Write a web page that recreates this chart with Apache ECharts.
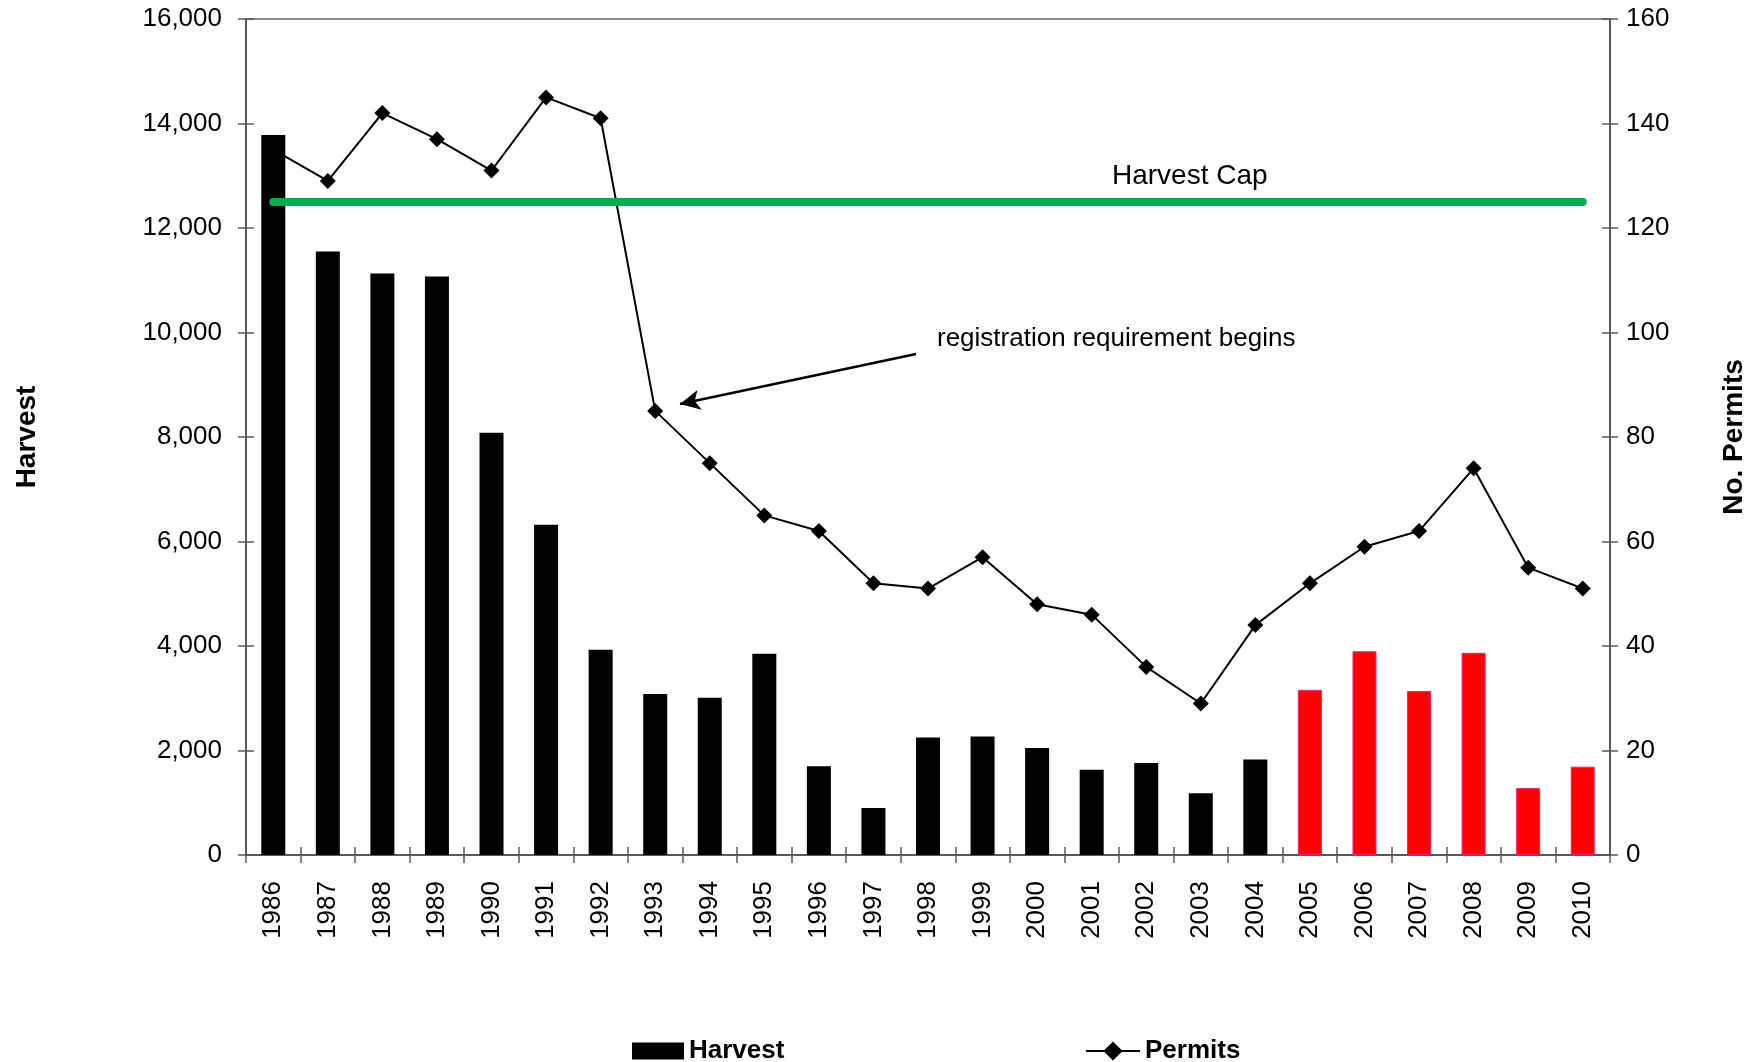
<!DOCTYPE html>
<html>
<head>
  <meta charset="utf-8">
  <title>Harvest and Permits</title>
  <script src="https://cdn.jsdelivr.net/npm/echarts@6/dist/echarts.min.js"></script>
  <style>
    html, body { margin: 0; padding: 0; background: #fff; }
    #myChart { width: 1764px; height: 1062px; }
  </style>
</head>
<body>
<div id="myChart"></div>
<script>
  // data
  const years = ['1986', '1987', '1988', '1989', '1990', '1991', '1992', '1993', '1994', '1995', '1996', '1997', '1998',
    '1999', '2000', '2001', '2002', '2003', '2004', '2005', '2006', '2007', '2008', '2009', '2010'];
  const harvest = [13780, 11550, 11130, 11070, 8080, 6320, 3930, 3080, 3010, 3850, 1700, 900, 2250,
    2270, 2050, 1630, 1760, 1180, 1830, 3160, 3900, 3140, 3870, 1280, 1690];
  const permits = [135, 129, 142, 137, 131, 145, 141, 85, 75, 65, 62, 52, 51,
    57, 48, 46, 36, 29, 44, 52, 59, 62, 74, 55, 51];
  const harvestCap = 12500;
  const redFrom = '2005';   // bars from this year on are red

  const font = 'Liberation Sans, Arial, sans-serif';
  const axisColor = '#595959';

  // bars: black, red from 2005
  const barData = harvest.map((v, i) => {
    if (years[i] >= redFrom) {
      return { value: v, itemStyle: { color: '#ff0000', borderColor: '#ff1a75', borderWidth: 1 } };
    }
    return v;
  });

  const myChart = echarts.init(document.getElementById('myChart'));

  // extra axes only draw the inner half of the crossing ticks
  const innerTicksY = (pos, max, interval) => ({
    type: 'value', position: pos, min: 0, max: max, interval: interval,
    axisLine: { show: false }, axisLabel: { show: false }, splitLine: { show: false },
    axisTick: { show: true, inside: true, length: 8, lineStyle: { color: axisColor, width: 1.5 } }
  });

  const legendText = { fontFamily: font, fontSize: 26, fontWeight: 'bold', color: '#000' };

  myChart.setOption({
    animation: false,
    textStyle: { fontFamily: font },
    grid: {
      left: 246, right: 154, top: 19, bottom: 207,
      show: true, borderColor: '#8c8c8c', borderWidth: 2
    },
    // two legends so each key can have its own icon size
    legend: [
      {
        data: [{ name: 'Harvest', icon: 'rect' }],
        left: 627, top: 1033, itemWidth: 52, itemHeight: 17,
        textStyle: legendText
      },
      {
        data: [{ name: 'Permits' }],
        left: 1080, top: 1033, itemWidth: 54, itemHeight: 24,
        textStyle: legendText
      }
    ],
    xAxis: [
      {
        type: 'category', data: years,
        axisLine: { lineStyle: { color: axisColor, width: 2 } },
        axisTick: { show: true, length: 8, lineStyle: { color: axisColor, width: 1.5 } },
        axisLabel: { rotate: 90, fontSize: 26, color: '#000', margin: 26, fontFamily: font }
      },
      {
        type: 'category', data: years, position: 'bottom',
        axisLine: { show: false }, axisLabel: { show: false },
        axisTick: { show: true, inside: true, length: 8, lineStyle: { color: axisColor, width: 1.5 } }
      }
    ],
    yAxis: [
      {
        type: 'value', position: 'left', min: 0, max: 16000, interval: 2000,
        name: 'Harvest', nameLocation: 'middle', nameRotate: 90, nameGap: 205,
        nameTextStyle: { fontSize: 28, fontWeight: 'bold', color: '#000', fontFamily: font },
        axisLine: { show: true, lineStyle: { color: axisColor, width: 2 } },
        axisTick: { show: true, length: 8, lineStyle: { color: axisColor, width: 1.5 } },
        axisLabel: {
          fontSize: 26, color: '#000', margin: 24, fontFamily: font,
          formatter: v => v.toLocaleString('en-US')
        },
        splitLine: { show: false }
      },
      {
        type: 'value', position: 'right', min: 0, max: 160, interval: 20,
        name: 'No. Permits', nameLocation: 'middle', nameRotate: 90, nameGap: 110,
        nameTextStyle: { fontSize: 28, fontWeight: 'bold', color: '#000', fontFamily: font },
        axisLine: { show: true, lineStyle: { color: axisColor, width: 2 } },
        axisTick: { show: true, length: 8, lineStyle: { color: axisColor, width: 1.5 } },
        axisLabel: { fontSize: 26, color: '#000', margin: 16, fontFamily: font },
        splitLine: { show: false }
      },
      innerTicksY('left', 16000, 2000),
      innerTicksY('right', 160, 20)
    ],
    series: [
      {
        name: 'Harvest', type: 'bar', xAxisIndex: 0, yAxisIndex: 0,
        barWidth: 24, z: 3,
        itemStyle: { color: '#000' },
        data: barData,
        markLine: {
          silent: true, symbol: 'none', z: 5,
          label: { show: false },
          lineStyle: { color: '#00b050', width: 8, type: 'solid', cap: 'round' },
          data: [[{ coord: [years[0], harvestCap] }, { coord: [years[years.length - 1], harvestCap] }]]
        }
      },
      {
        name: 'Permits', type: 'line', xAxisIndex: 0, yAxisIndex: 1,
        z: 1,
        symbol: 'diamond', symbolSize: 16,
        itemStyle: { color: '#000' },
        lineStyle: { color: '#000', width: 2 },
        data: permits,
        markLine: {
          silent: true, symbol: ['none', 'arrow'], symbolSize: [15, 20],
          label: { show: false },
          lineStyle: { color: '#000', width: 2.5, type: 'solid' },
          data: [[{ x: 916, y: 354 }, { x: 680, y: 404 }]]
        }
      }
    ],
    graphic: [
      {
        type: 'text', left: 1112, top: 162,
        style: { text: 'Harvest Cap', font: '28px ' + font, fill: '#000' }
      },
      {
        type: 'text', left: 937, top: 326,
        style: { text: 'registration requirement begins', font: '26px ' + font, fill: '#000' }
      }
    ]
  });
</script>
</body>
</html>
